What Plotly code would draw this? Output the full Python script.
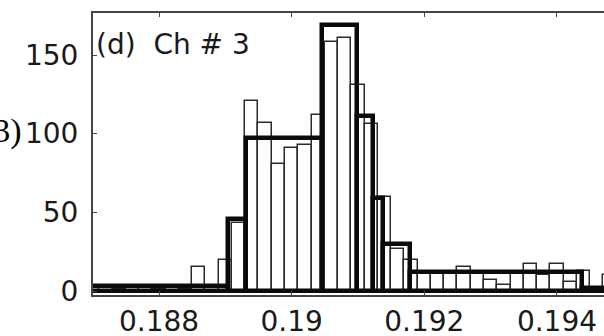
import numpy as np
import plotly.graph_objects as go

# Fine histogram (bin width 0.0002), bin centres and counts
fine_centers = [0.1872, 0.1874, 0.1876, 0.1878, 0.1880, 0.1882, 0.1884, 0.1886, 0.1888,
                0.1890, 0.1892, 0.1894, 0.1896, 0.1898, 0.1900, 0.1902, 0.1904, 0.1906,
                0.1908, 0.1910, 0.1912, 0.1914, 0.1916, 0.1918, 0.1920, 0.1922, 0.1924,
                0.1926, 0.1928, 0.1930, 0.1932, 0.1934, 0.1936, 0.1938, 0.1940, 0.1942,
                0.1944, 0.1946, 0.1948]
fine_counts = [2, 1, 2, 2, 1, 2, 1, 15, 2,
               20, 43, 121, 107, 81, 91, 93, 112, 158,
               161, 131, 106, 60, 27, 20, 12, 11, 11,
               15, 11, 7, 4, 11, 17, 10, 17, 6,
               13, 2, 10]
fine_width = 0.0002

# Coarse (variable-width) histogram: bin edges and counts
coarse_edges = [0.1866, 0.18904, 0.18931, 0.19045, 0.19099, 0.19123, 0.19138,
                0.19178, 0.19438, 0.1960]
coarse_counts = [3, 46, 97, 169, 111, 59, 30, 12, 2]

# Axis ticks
x_ticks = [0.188, 0.19, 0.192, 0.194]
x_ticktext = ["0.188", "0.19", "0.192", "0.194"]
y_ticks = [0, 50, 100, 150]

ce = np.array(coarse_edges)
coarse_centers = (ce[:-1] + ce[1:]) / 2
coarse_widths = np.diff(ce)

fig = go.Figure()
fig.add_trace(go.Bar(
    x=fine_centers, y=fine_counts, width=[fine_width] * len(fine_centers),
    marker=dict(color="rgba(0,0,0,0)", line=dict(color="#2a2a2a", width=1.5)),
    showlegend=False,
))
fig.add_trace(go.Bar(
    x=coarse_centers, y=coarse_counts, width=coarse_widths,
    marker=dict(color="rgba(0,0,0,0)", line=dict(color="#0a0a0a", width=4.5)),
    showlegend=False,
))

W, H = 604, 336
L, R, T, B = 93, 0, 13, 41
pw, ph = W - L - R, H - T - B

def px(xp):
    return (xp - L) / pw

def py(yp):
    return (H - B - yp) / ph

font_main = "DejaVu Sans, Arial, sans-serif"

fig.update_layout(
    width=W, height=H,
    margin=dict(l=L, r=R, t=T, b=B, autoexpand=False),
    paper_bgcolor="white", plot_bgcolor="white",
    barmode="overlay", bargap=0,
    font=dict(family=font_main, size=28, color="#1a1a1a"),
    xaxis=dict(
        range=[0.187005, 0.194709], tickvals=x_ticks, ticktext=x_ticktext,
        showgrid=False, zeroline=False, showline=True, linecolor="#444", linewidth=2,
        mirror="ticks", ticks="inside", ticklen=4, tickcolor="#444",
        tickfont=dict(size=28, family=font_main, color="#1a1a1a"),
    ),
    yaxis=dict(
        range=[-2.54, 176.7], tickvals=y_ticks,
        showgrid=False, zeroline=False, showline=True, linecolor="#444", linewidth=2,
        ticks="inside", ticklen=4, tickcolor="#444", ticklabelstandoff=7,
        tickfont=dict(size=28, family=font_main, color="#1a1a1a"),
    ),
    annotations=[
        dict(text="(d)\u00a0\u00a0Ch # 3", xref="paper", yref="paper",
             x=px(94), y=py(44), xanchor="left", yanchor="middle", showarrow=False,
             font=dict(size=28, family=font_main, color="#1a1a1a")),
        dict(text="(3)", xref="paper", yref="paper",
             x=px(24), y=py(131), xanchor="right", yanchor="middle", showarrow=False,
             font=dict(size=34, family="Liberation Serif, Times New Roman, serif",
                       color="#000")),
    ],
)

fig.write_html("out.html")
